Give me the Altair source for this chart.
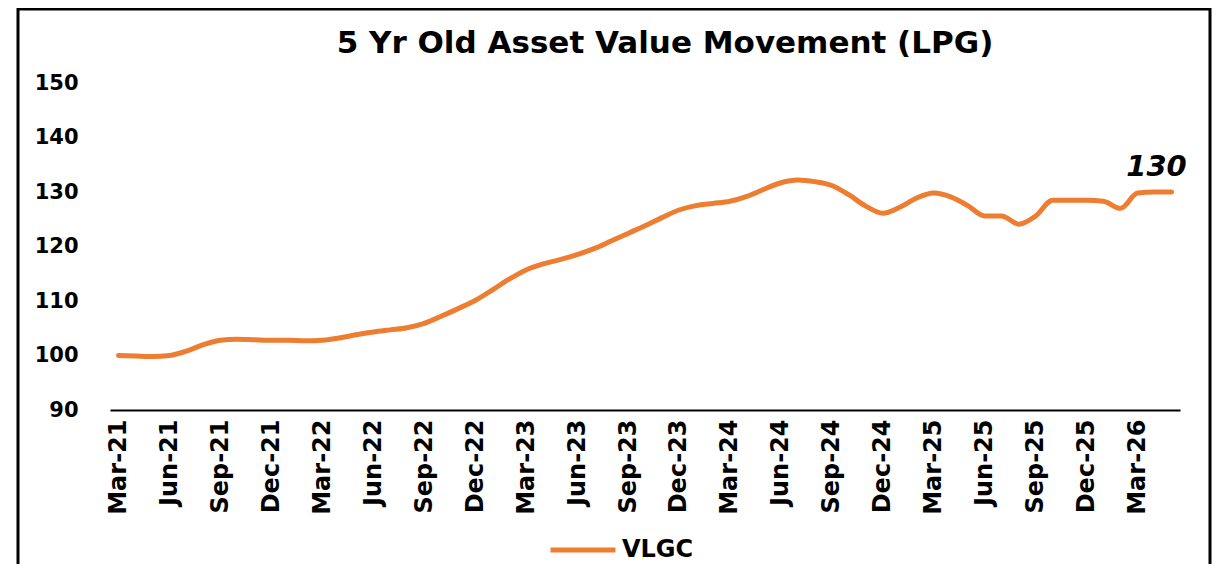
import altair as alt
import pandas as pd

months = ["Mar-21","Apr-21","May-21","Jun-21","Jul-21","Aug-21","Sep-21","Oct-21","Nov-21","Dec-21",
          "Jan-22","Feb-22","Mar-22","Apr-22","May-22","Jun-22","Jul-22","Aug-22","Sep-22","Oct-22",
          "Nov-22","Dec-22","Jan-23","Feb-23","Mar-23","Apr-23","May-23","Jun-23","Jul-23","Aug-23",
          "Sep-23","Oct-23","Nov-23","Dec-23","Jan-24","Feb-24","Mar-24","Apr-24","May-24","Jun-24",
          "Jul-24","Aug-24","Sep-24","Oct-24","Nov-24","Dec-24","Jan-25","Feb-25","Mar-25","Apr-25",
          "May-25","Jun-25","Jul-25","Aug-25","Sep-25","Oct-25","Nov-25","Dec-25","Jan-26","Feb-26",
          "Mar-26","Apr-26","May-26"]
vlgc = [100.0, 99.9, 99.8, 100.0, 100.8, 102.0, 102.8, 103.0, 102.9, 102.8,
        102.8, 102.7, 102.8, 103.2, 103.8, 104.3, 104.7, 105.1, 105.9, 107.2,
        108.6, 110.1, 112.0, 114.0, 115.7, 116.8, 117.6, 118.5, 119.6, 121.0,
        122.4, 123.8, 125.3, 126.7, 127.5, 127.9, 128.3, 129.2, 130.5, 131.7,
        132.2, 131.9, 131.2, 129.5, 127.4, 126.1, 127.2, 128.9, 129.8, 129.1,
        127.5, 125.6, 125.6, 124.1, 125.6, 128.5, 128.5, 128.5, 128.3, 127.0,
        129.8, 130.0, 130.0]
quarter_labels = months[::3]
y_ticks = [90, 100, 110, 120, 130, 140, 150]
series_name = "VLGC"
end_label = "130"

df = pd.DataFrame({"Month": months, "Value": vlgc, "Series": series_name})
last = pd.DataFrame({"Month": [months[-1]], "Value": [vlgc[-1]], "Label": [end_label]})
frame_df = pd.DataFrame({"a": [0]})

W, H = 1070, 327
orange = "#ED7D31"

x_enc = alt.X("Month:O", sort=months,
              scale=alt.Scale(type="point", padding=0.5),
              axis=alt.Axis(values=quarter_labels, title=None, labelAngle=-90,
                            labelAlign="right", labelBaseline="middle",
                            labelFont="DejaVu Sans", labelFontWeight="bold",
                            labelFontSize=24, labelColor="black", labelPadding=9,
                            ticks=False, domain=True, domainColor="black",
                            domainWidth=2, grid=False))
y_enc = alt.Y("Value:Q", scale=alt.Scale(domain=[90, 150], nice=False, zero=False),
              axis=alt.Axis(values=y_ticks, title=None, ticks=False, domain=False,
                            grid=False, labelFont="DejaVu Sans", labelFontWeight="bold",
                            labelFontSize=21, labelColor="black", labelPadding=32))

line = alt.Chart(df).mark_line(strokeWidth=5, interpolate="monotone", strokeCap="round").encode(
    x=x_enc, y=y_enc,
    color=alt.Color("Series:N", scale=alt.Scale(domain=[series_name], range=[orange]),
                    legend=alt.Legend(title=None, orient="none", legendX=438, legendY=432,
                                      symbolType="stroke", symbolSize=4225, symbolStrokeWidth=5,
                                      labelFont="DejaVu Sans", labelFontWeight="bold",
                                      labelFontSize=24, labelColor="black", labelOffset=4))
)

label = alt.Chart(last).mark_text(font="DejaVu Sans", fontWeight="bold", fontStyle="italic",
                                  fontSize=29, color="black", dx=-15, dy=-25).encode(
    x=alt.X("Month:O", sort=months), y=alt.Y("Value:Q"), text="Label:N")

frame = alt.Chart(frame_df).mark_rect(fill=None, stroke="black", strokeWidth=3, clip=False).encode(
    x=alt.value(-92), x2=alt.value(1100), y=alt.value(-74), y2=alt.value(700))

chart = alt.layer(frame, line, label).properties(
    width=W, height=H,
    background="white",
    title=alt.TitleParams("5 Yr Old Asset Value Movement (LPG)", font="DejaVu Sans",
                          fontSize=31, fontWeight="bold", color="black",
                          anchor="middle", dx=20, offset=-52),
    autosize=alt.AutoSizeParams(type="none"),
    padding={"left": 102, "top": 75, "right": 32, "bottom": 154},
).configure_view(stroke="transparent", strokeWidth=0)

chart.save("out.html", embed_options={"renderer": "svg", "actions": False})
